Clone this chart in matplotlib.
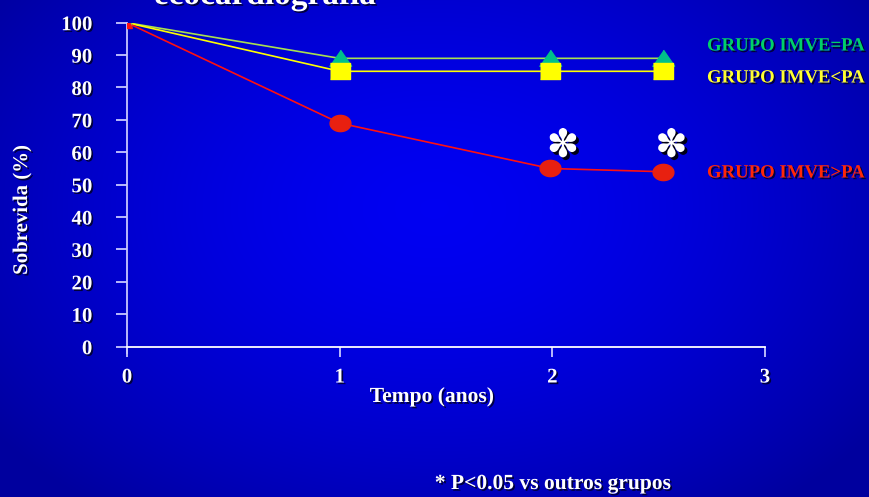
import numpy as np
import matplotlib
matplotlib.use("Agg")
import matplotlib.pyplot as plt
import matplotlib.patheffects as pe

# data
anos = [0, 1, 1.99, 2.52]
igual = [100, 89, 89, 89]      # GRUPO IMVE=PA
menor = [100, 85, 85, 85]      # GRUPO IMVE<PA
maior = [100, 69, 55, 54]      # GRUPO IMVE>PA
signif_x = [2.05, 2.56]
signif_y = [62, 62]

grupos = ["GRUPO IMVE=PA", "GRUPO IMVE<PA", "GRUPO IMVE>PA"]
yticks = [0, 10, 20, 30, 40, 50, 60, 70, 80, 90, 100]
xticks = [0, 1, 2, 3]

serif = ["Liberation Serif", "DejaVu Serif"]
sombra = [pe.SimplePatchShadow(offset=(1.2, -1.2), shadow_rgbFace="black", alpha=0.7), pe.Normal()]

fig = plt.figure(figsize=(8.69, 4.97), dpi=100)

# blue slide background
bg = fig.add_axes([0, 0, 1, 1], zorder=-10)
yy, xx = np.mgrid[0:1:300j, 0:1:500j]
r = np.sqrt(((xx - 0.5) / 0.62) ** 2 + ((yy - 0.42) / 0.75) ** 2)
b = np.clip(0.95 - 0.32 * r ** 1.6, 0.62, 0.95)
img = np.dstack([np.zeros_like(b), np.zeros_like(b), b])
bg.imshow(img, aspect="auto", extent=[0, 1, 0, 1], origin="upper")
bg.axis("off")

ax = fig.add_axes([127 / 869, 1 - 352.5 / 497, (765 - 127) / 869, (352.5 - 22.7) / 497])
ax.set_facecolor("none")
ax.set_xlim(0, 3)
ax.set_ylim(-1.8, 100)

tri = [(-1, -0.7), (1, -0.7), (0, 0.75)]
ret = [(-1, -0.75), (1, -0.75), (1, 0.75), (-1, 0.75)]
t = np.linspace(0, 2 * np.pi, 40)
eli = list(zip(np.cos(t), 0.78 * np.sin(t)))

ax.plot(anos, igual, color="#a8e050", lw=1.2, zorder=3)
ax.plot(anos, menor, color="#ffff00", lw=1.2, zorder=3)
ax.plot(anos, maior, color="#ff1010", lw=1.2, zorder=3)
ax.plot(anos[1:], igual[1:], ls="none", marker=tri, ms=16, color="#00c08a", zorder=4)
ax.plot(anos[1:], menor[1:], ls="none", marker=ret, ms=15, color="#ffff00", zorder=4)
ax.plot(anos[1:], maior[1:], ls="none", marker=eli, ms=15, color="#e82010", zorder=4)
ax.plot(anos[:1], igual[:1], ls="none", marker="s", ms=6, color="#90d050", zorder=5)
ax.plot(anos[:1], maior[:1], ls="none", marker="^", ms=7, color="#ff1010", zorder=6)

ast_fx = [pe.SimplePatchShadow(offset=(2, -2), shadow_rgbFace="black", alpha=0.9), pe.Normal()]
for sx, sy in zip(signif_x, signif_y):
    ax.text(sx, sy, "\u273d", color="white", fontsize=28, ha="center", va="center",
            family="DejaVu Sans", path_effects=ast_fx, zorder=7)

for sp in ["top", "right"]:
    ax.spines[sp].set_visible(False)
ax.spines["left"].set_color("#c8c8ff")
ax.spines["left"].set_linewidth(1.3)
ax.spines["bottom"].set_position(("data", 0))
ax.spines["bottom"].set_color("white")
ax.spines["bottom"].set_linewidth(1.3)

ax.set_yticks(yticks)
ax.set_xticks(xticks)
ax.tick_params(axis="y", colors="#c8c8ff", length=8, width=1.3, pad=17, labelcolor="white")
ax.tick_params(axis="x", colors="#c8c8ff", length=7, width=1.3, pad=8, labelcolor="white")
for lab in ax.get_xticklabels() + ax.get_yticklabels():
    lab.set_fontfamily(serif)
    lab.set_fontweight("bold")
    lab.set_fontsize(15)
    lab.set_path_effects(sombra)

fig.text(432 / 869, 1 - 397 / 497, "Tempo (anos)", color="white", fontsize=15.5, fontweight="bold",
         family=serif, ha="center", va="center", path_effects=sombra)
fig.text(22 / 869, 1 - 210 / 497, "Sobrevida (%)", color="white", fontsize=15, fontweight="bold",
         family=serif, ha="center", va="center", rotation=90, path_effects=sombra)
fig.text(553 / 869, 1 - 484 / 497, "* P<0.05 vs outros grupos", color="white", fontsize=15.5,
         fontweight="bold", family=serif, ha="center", va="center", path_effects=sombra)
fig.text(265 / 869, 1 - 4 / 497, "ecocardiografia", color="white", fontsize=24,
         fontweight="bold", family=serif, ha="center", va="baseline", path_effects=sombra)

cores = ["#00d068", "#ffff30", "#ff2808"]
ypos = [46, 78, 173]
for g, c, yp in zip(grupos, cores, ypos):
    fig.text(707 / 869, 1 - yp / 497, g, color=c, fontsize=13.5, fontweight="bold",
             family=serif, ha="left", va="center", path_effects=sombra)

fig.savefig("out.png", dpi=100)
